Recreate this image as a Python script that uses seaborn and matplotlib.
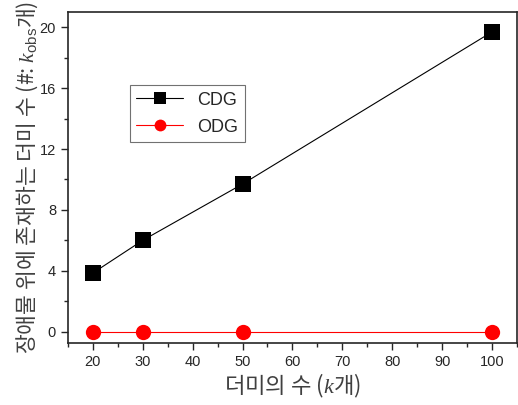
import matplotlib
matplotlib.use('Agg')
import matplotlib.pyplot as plt
import seaborn as sns
import pandas as pd
from matplotlib.ticker import MultipleLocator

# data
dummy_counts = [20, 30, 50, 100]
cdg_values = [3.85, 6.0, 9.7, 19.7]
odg_values = [-0.05, -0.05, -0.05, -0.05]

df = pd.DataFrame({
    'k': dummy_counts * 2,
    'value': cdg_values + odg_values,
    'series': ['CDG'] * 4 + ['ODG'] * 4,
})

sns.set_style('ticks')
plt.rcParams['font.family'] = ['Liberation Sans', 'Noto Sans CJK KR', 'DejaVu Sans']
# mixed Korean + math labels: the plain part uses the text's own font
plt.rcParams['mathtext.fontset'] = 'custom'
plt.rcParams['mathtext.rm'] = 'Liberation Sans'
plt.rcParams['mathtext.it'] = 'Liberation Serif:italic'

fig = plt.figure(figsize=(5.18, 4.05), dpi=100)
ax = fig.add_axes([0.131, 0.153, 0.867, 0.817])

sns.lineplot(data=df, x='k', y='value', hue='series', style='series',
             palette={'CDG': 'black', 'ODG': 'red'},
             markers={'CDG': 's', 'ODG': 'o'}, dashes=False,
             markersize=11, linewidth=0.8, markeredgewidth=0,
             ax=ax)

ax.set_xlim(15, 105)
ax.set_ylim(-0.75, 21)
ax.xaxis.set_major_locator(MultipleLocator(10))
ax.xaxis.set_minor_locator(MultipleLocator(5))
ax.yaxis.set_major_locator(MultipleLocator(4))
ax.yaxis.set_minor_locator(MultipleLocator(2))
ax.tick_params(which='major', length=5, width=1, labelsize=10.5, direction='out')
ax.tick_params(which='minor', length=3, width=1, direction='out')

for s in ax.spines.values():
    s.set_visible(True)
    s.set_linewidth(1.2)

ax.set_xlabel('더미의 수 ($k$개)', fontsize=16, family='Noto Sans CJK KR',
              fontweight='light', color='0.25', labelpad=2)
ax.set_ylabel('장애물 위에 존재하는 더미 수 (#: $k_{\\mathrm{obs}}$개)', fontsize=15.5,
              family='Noto Sans CJK KR', fontweight='light', color='0.25', labelpad=0)

leg = ax.legend(title=None, loc='upper left', bbox_to_anchor=(0.138, 0.779),
                borderaxespad=0, fontsize=13, frameon=True, fancybox=False,
                edgecolor='0.3', handlelength=2.6, borderpad=0.35, labelspacing=0.55)
leg.get_frame().set_linewidth(0.8)
for h in leg.legend_handles:
    h.set_markersize(8.5)

fig.savefig('out.png', dpi=100)
